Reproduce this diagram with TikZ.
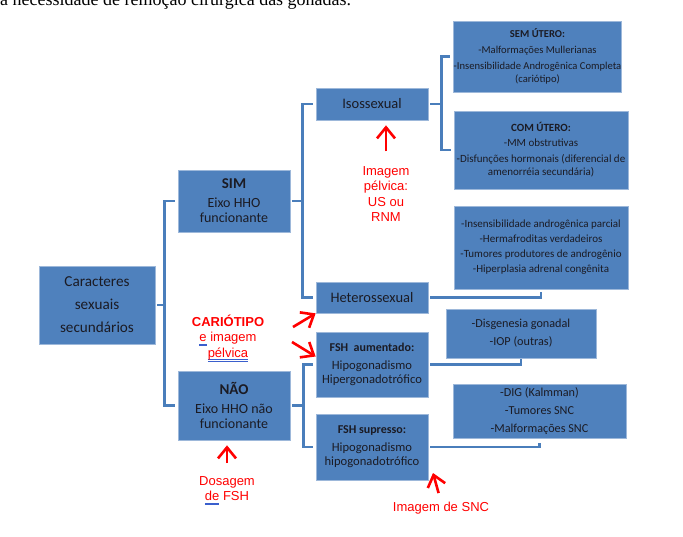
\documentclass[tikz,border=0pt]{standalone}
\usepackage{fontspec}
\setmainfont{Carlito}
\newfontfamily\arialfont{Liberation Sans}
\newfontfamily\timesfont{Liberation Serif}
\usepackage{xcolor}
\usetikzlibrary{arrows.meta}

\definecolor{boxblue}{HTML}{4F81BD}
\definecolor{boxedge}{HTML}{9DB8DA}
\definecolor{boxtext}{HTML}{1B1B24}
\definecolor{linkblue}{HTML}{4A7EBB}
\definecolor{notered}{HTML}{FF0000}
\definecolor{spellblue}{HTML}{3A5FCD}

\newlength\spellwd
\newcommand\spellmark[1]{\settowidth\spellwd{#1}%
  \rlap{\textcolor{spellblue}{\rule[-2.4pt]{\spellwd}{0.45pt}}}%
  \rlap{\textcolor{spellblue}{\rule[-4pt]{\spellwd}{0.45pt}}}#1}

\begin{document}
\begin{tikzpicture}[
x=1pt, y=-1pt,
box/.style={fill=boxblue, draw=boxedge, line width=0.7pt, text=boxtext, align=center, inner sep=0pt, font=\fontsize{14}{15}\selectfont},
lst/.style={box, font=\fontsize{11}{13}\selectfont},
note/.style={text=notered, align=center, inner sep=0pt, font=\arialfont\fontsize{13}{15.3}\selectfont},
link/.style={draw=linkblue, line width=2.6pt, shorten <=2pt, shorten >=3pt},
arr/.style={-{Straight Barb[length=11pt,width=18pt]}, draw=notered, line width=2.6pt}
]
\useasboundingbox (0,0) rectangle (683,536);
\fill[white] (0,0) rectangle (683,536);

% line of the page above the chart
\node[anchor=base west, inner sep=0pt, font=\timesfont\fontsize{18}{20}\selectfont] (topline) at (0,5) {a necessidade de remoção cirúrgica das gônadas.};

% main boxes
\node[box, minimum width=116pt, minimum height=78pt, font=\fontsize{15.2}{23}\selectfont] (car) at (97,305) {Caracteres\\sexuais\\secundários};
\node[box, minimum width=112pt, minimum height=62pt] (sim) at (234,201) {\textbf{\fontsize{15}{15}\selectfont SIM}\\[4pt]Eixo HHO\\funcionante};
\node[box, minimum width=112pt, minimum height=69pt] (nao) at (234,405.5) {\textbf{\fontsize{15}{15}\selectfont NÃO}\\[4pt]Eixo HHO não\\funcionante};
\node[box, minimum width=112pt, minimum height=32pt, font=\fontsize{14.5}{15}\selectfont] (iso) at (372,104) {Isossexual};
\node[box, minimum width=112pt, minimum height=31pt, font=\fontsize{14.5}{15}\selectfont] (het) at (372,297.5) {Heterossexual};
\node[box, minimum width=112pt, minimum height=65pt, font=\fontsize{12.6}{14}\selectfont] (fsha) at (372,364.5) {\textbf{\fontsize{12}{14}\selectfont FSH\ \ aumentado:}\\[4pt]Hipogonadismo\\Hipergonadotrófico};
\node[box, minimum width=112pt, minimum height=66pt, font=\fontsize{12.6}{14}\selectfont] (fshs) at (372,447) {\textbf{\fontsize{12}{14}\selectfont FSH supresso:}\\[4pt]Hipogonadismo\\hipogonadotrófico};

% lists of causes
\node[lst, minimum width=167pt, minimum height=71pt, font=\fontsize{10.6}{13}\selectfont] (sem) at (537.5,56.5) {\textbf{SEM ÚTERO:}\\[3pt]-Malformações Mullerianas\\[3pt]-Insensibilidade Androgênica Completa\\(cariótipo)};
\node[lst, minimum width=174pt, minimum height=78pt] (com) at (541,150) {\textbf{COM ÚTERO:}\\[2pt]-MM obstrutivas\\[3pt]-Disfunções hormonais (diferencial de\\amenorréia secundária)};
\node[lst, minimum width=174pt, minimum height=83pt] (hlist) at (541,247.5) {-Insensibilidade androgênica parcial\\[2pt]-Hermafroditas verdadeiros\\[2pt]-Tumores produtores de androgênio\\[2pt]-Hiperplasia adrenal congênita};
\node[lst, minimum width=150pt, minimum height=49pt, font=\fontsize{12.2}{14}\selectfont] (dis) at (521,333.5) {-Disgenesia gonadal\\[4pt]-IOP (outras)};
\node[lst, minimum width=173pt, minimum height=54pt, font=\fontsize{12.2}{14}\selectfont] (dig) at (539.5,411) {-DIG (Kalmman)\\[4pt]-Tumores SNC\\[4pt]-Malformações SNC};

% brackets
\draw[link] (car.east) -- ++(9,0) |- (sim.west);
\draw[link] (car.east) -- ++(9,0) |- (nao.west);
\draw[link] (sim.east) -- ++(12,0) |- (iso.west);
\draw[link] (sim.east) -- ++(12,0) |- (het.west);
\draw[link] (nao.east) -- ++(13,0) |- (fsha.west);
\draw[link] (nao.east) -- ++(13,0) |- (fshs.west);
\draw[link] (iso.east) -- ++(13,0) |- (sem.west);
\draw[link] (iso.east) -- ++(13,0) |- (com.west);
\draw[link, shorten >=0pt] (het.east) -| ([yshift=-3pt]hlist.south);
\draw[link, shorten >=0pt] (fsha.east) -| ([yshift=-1pt]dis.south);
\draw[link, shorten >=0pt] (fshs.east) -| ([yshift=-5pt]dig.south);

% red notes
\node[note] (isonote) at (386,194) {Imagem\\pélvica:\\US ou\\RNM};
\node[note] (cario) at (228,338) {\textbf{CARIÓTIPO}\\\spellmark{e} imagem\\\spellmark{pélvica}};
\node[note] (dosnote) at (227,490.5) {Dosagem\\\spellmark{de} FSH};
\node[note] (sncnote) at (441,508) {Imagem de SNC};

\coordinate (c1) at (293,327);
\coordinate (c2) at (292,342);
\coordinate (snctip) at (433,473);
\draw[arr, shorten <=15pt, shorten >=5pt] (isonote.north) -- (isonote.north |- iso.south);
\draw[arr] (c1) -- (het.south west);
\draw[arr] (c2) -- ([yshift=8pt]fsha.west);
\draw[arr, shorten <=13pt, shorten >=5pt] (dosnote.north) -- (dosnote.north |- nao.south);
\draw[arr, shorten <=9pt] (sncnote.north) -- (snctip);
\end{tikzpicture}
\end{document}
